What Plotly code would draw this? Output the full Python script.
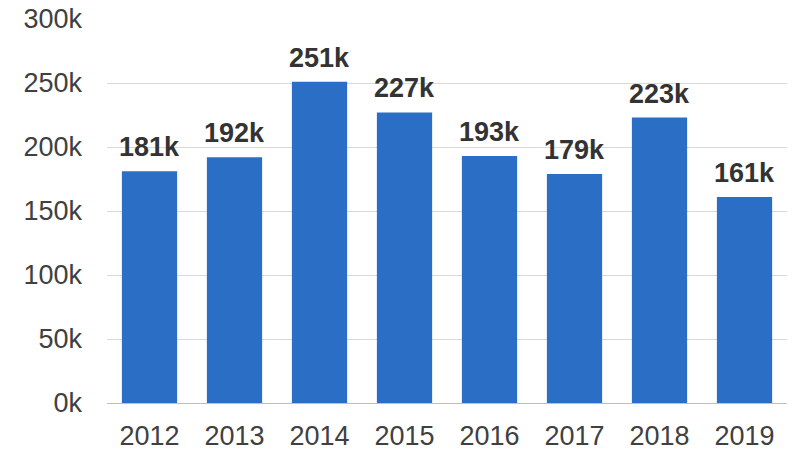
import plotly.graph_objects as go

years = ["2012", "2013", "2014", "2015", "2016", "2017", "2018", "2019"]
values_k = [181, 192, 251, 227, 193, 179, 223, 161]
y_ticks = [0, 50000, 100000, 150000, 200000, 250000, 300000]
y_tick_labels = ["0k", "50k", "100k", "150k", "200k", "250k", "300k"]

values = [v * 1000 for v in values_k]
labels = [f"{v}k" for v in values_k]

fig = go.Figure()
fig.add_trace(go.Bar(
    x=years, y=values,
    marker=dict(color="#2a6ec6", line=dict(width=0)),
    hoverinfo="skip",
))

# value labels above each bar (category index on the x axis)
for i, (v, lab) in enumerate(zip(values, labels)):
    fig.add_annotation(
        x=i, y=v, text=f"<b>{lab}</b>", showarrow=False,
        xref="x", yref="y", yanchor="bottom", yshift=7,
        font=dict(family="Liberation Sans, Arial, sans-serif", size=27, color="#333333"),
    )

fig.update_layout(
    width=800, height=452,
    margin=dict(l=107, r=13, t=19, b=49, autoexpand=False),
    paper_bgcolor="white", plot_bgcolor="white",
    bargap=0.35, showlegend=False,
    font=dict(family="Liberation Sans, Arial, sans-serif", size=27, color="#404040"),
)
fig.update_xaxes(
    type="category", categoryarray=years, range=[-0.5, len(years) - 0.5],
    automargin=False,
    showgrid=False, showline=False, ticks="", ticklabelstandoff=14,
    tickfont=dict(size=27, color="#404040"),
)
fig.update_yaxes(
    range=[0, 300000], tickvals=y_ticks, ticktext=y_tick_labels,
    automargin=False,
    showgrid=True, gridcolor="#d9d9d9", gridwidth=1,
    zeroline=True, zerolinecolor="#bfbfbf", zerolinewidth=1,
    showline=False, ticks="", ticklabelstandoff=24,
    tickfont=dict(size=27, color="#404040"),
)

fig.write_html("out.html")
